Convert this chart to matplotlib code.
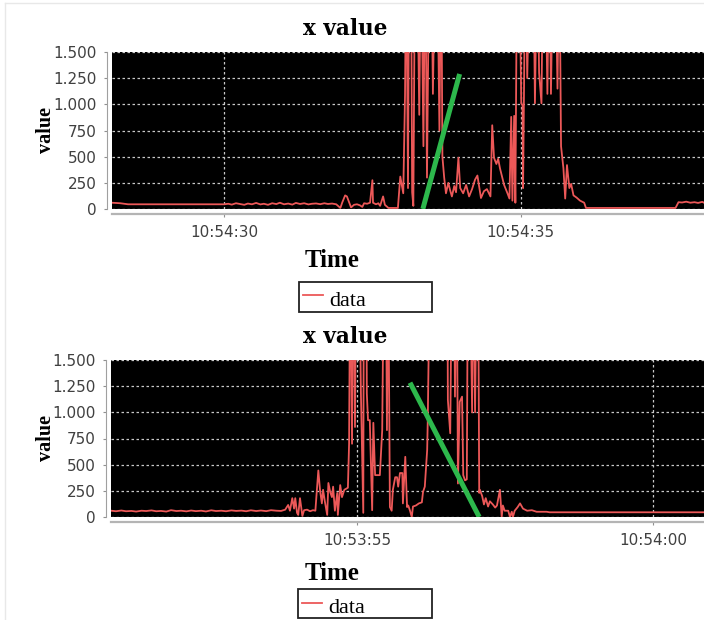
#!/usr/bin/env python3
"""
Two stacked time series panels ("x value") with a fitted trend segment.
"""
import matplotlib
matplotlib.use("Agg")
import matplotlib.pyplot as plt
import matplotlib.dates as mdates
import matplotlib.ticker as mticker
from matplotlib.lines import Line2D
from matplotlib.patches import Rectangle
import pandas as pd

W, H = 704, 620

# ---- top panel data (seconds after 10:54:00) ----
top_sec = [28.11, 28.25, 28.38, 30.00, 30.07, 30.13, 30.20, 30.27, 30.34, 30.40,
           30.47, 30.54, 30.61, 30.67, 30.74, 30.81, 30.88, 30.94, 31.01, 31.08,
           31.15, 31.21, 31.28, 31.35, 31.42, 31.48, 31.55, 31.62, 31.69, 31.75,
           31.82, 31.89, 31.96, 31.99, 32.04, 32.07, 32.11, 32.14, 32.19, 32.24,
           32.29, 32.33, 32.36, 32.41, 32.46, 32.50, 32.51, 32.56, 32.60, 32.63,
           32.68, 32.71, 32.77, 32.93, 32.97, 33.02, 33.05, 33.07, 33.10, 33.12,
           33.15, 33.17, 33.19, 33.22, 33.25, 33.29, 33.32, 33.36, 33.39, 33.42,
           33.46, 33.49, 33.52, 33.56, 33.59, 33.63, 33.66, 33.68, 33.71, 33.74,
           33.78, 33.81, 33.84, 33.88, 33.91, 33.95, 33.98, 34.03, 34.08, 34.13,
           34.18, 34.23, 34.27, 34.30, 34.33, 34.38, 34.43, 34.49, 34.52, 34.55,
           34.59, 34.62, 34.65, 34.69, 34.72, 34.77, 34.81, 34.84, 34.86, 34.89,
           34.91, 34.94, 34.97, 35.01, 35.03, 35.04, 35.08, 35.11, 35.16, 35.21,
           35.24, 35.28, 35.31, 35.35, 35.38, 35.41, 35.45, 35.48, 35.51, 35.55,
           35.58, 35.62, 35.65, 35.68, 35.72, 35.75, 35.78, 35.82, 35.85, 35.89,
           35.94, 36.00, 36.07, 36.10, 37.61, 37.66, 37.72, 37.79, 37.86, 37.93,
           37.99, 38.06, 38.09]
top_val = [60, 55, 45, 45, 50, 42, 55, 48, 40, 52,
           45, 58, 44, 50, 40, 55, 47, 60, 45, 52,
           42, 58, 48, 55, 44, 50, 53, 46, 55, 48,
           52, 45, 10, 60, 130, 120, 60, 15, 40, 45,
           35, 20, 55, 50, 60, 275, 60, 45, 55, 30,
           120, 40, 10, 10, 310, 150, 1090, 2600, 200, 2600,
           2600, 160, 30, 2600, 2600, 900, 2600, 600, 2600, 300,
           2600, 2600, 1100, 2600, 2600, 750, 2600, 500, 300, 150,
           250, 180, 120, 220, 160, 490, 200, 150, 230, 120,
           190, 280, 320, 210, 105, 170, 190, 120, 800, 490,
           430, 480, 390, 300, 230, 160, 100, 880, 80, 890,
           60, 2600, 2600, 1010, 990, 200, 2600, 1250, 2600, 2600,
           1010, 2600, 1300, 1010, 2600, 2600, 1100, 2600, 1100, 2600,
           2600, 1150, 2600, 600, 390, 100, 420, 200, 240, 130,
           110, 80, 60, 10, 10, 65, 62, 70, 60, 65,
           58, 68, 60]
top_trend_sec = [33.35, 33.97]
top_trend_val = [0, 1290]
top_xlim = [28.11, 38.09]

# ---- bottom panel data (seconds after 10:53:00) ----
bot_sec = [50.84, 50.92, 51.01, 51.09, 51.18, 51.26, 51.35, 51.43, 51.52, 51.60,
           51.68, 51.77, 51.85, 51.94, 52.02, 52.11, 52.19, 52.27, 52.36, 52.44,
           52.53, 52.61, 52.70, 52.78, 52.87, 52.95, 53.04, 53.12, 53.20, 53.29,
           53.37, 53.46, 53.54, 53.63, 53.71, 53.78, 53.83, 53.86, 53.90, 53.93,
           53.95, 53.98, 54.00, 54.03, 54.07, 54.10, 54.15, 54.20, 54.25, 54.29,
           54.34, 54.37, 54.40, 54.42, 54.45, 54.49, 54.51, 54.54, 54.57, 54.59,
           54.62, 54.66, 54.67, 54.71, 54.74, 54.78, 54.81, 54.84, 54.86, 54.88,
           54.91, 54.93, 54.96, 54.98, 55.03, 55.06, 55.10, 55.11, 55.15, 55.16,
           55.18, 55.21, 55.25, 55.27, 55.30, 55.38, 55.42, 55.45, 55.48, 55.50,
           55.52, 55.55, 55.58, 55.60, 55.64, 55.67, 55.69, 55.72, 55.76, 55.77,
           55.81, 55.84, 55.86, 55.89, 55.92, 55.94, 55.99, 56.04, 56.09, 56.11,
           56.14, 56.18, 56.19, 56.23, 56.52, 56.53, 56.57, 56.60, 56.63, 56.65,
           56.68, 56.70, 56.73, 56.77, 56.79, 56.82, 56.85, 56.87, 56.90, 56.94,
           56.95, 56.99, 57.02, 57.04, 57.06, 57.07, 57.11, 57.14, 57.17, 57.21,
           57.24, 57.29, 57.33, 57.36, 57.41, 57.44, 57.46, 57.49, 57.55, 57.58,
           57.61, 57.63, 57.66, 57.71, 57.75, 57.80, 57.87, 57.95, 58.03, 58.20,
           58.25, 60.86]
bot_val = [60, 55, 62, 55, 58, 52, 60, 57, 63, 55,
           58, 52, 65, 57, 60, 54, 62, 56, 60, 53,
           64, 57, 60, 55, 63, 58, 61, 55, 64, 57,
           62, 56, 65, 60, 58, 70, 115, 60, 180, 80,
           180, 40, 20, 180, 10, 65, 70, 55, 65, 60,
           445, 250, 130, 260, 150, 20, 325, 240, 190, 290,
           60, 230, 20, 305, 190, 260, 270, 280, 700, 2600,
           700, 2600, 860, 2600, 2600, 1180, 40, 2600, 2600, 1180,
           925, 925, 65, 900, 400, 400, 830, 2600, 2600, 830,
           2600, 95, 60, 260, 380, 380, 290, 420, 420, 130,
           575, 95, 110, 60, 0, 100, 110, 130, 140, 240,
           290, 640, 925, 2600, 2600, 1120, 800, 2600, 2600, 1150,
           2600, 320, 1100, 1150, 400, 350, 360, 2600, 2600, 1000,
           2600, 1000, 2600, 2600, 230, 260, 200, 120, 180, 100,
           150, 120, 90, 110, 260, 0, 110, 60, 60, 0,
           50, 0, 60, 95, 130, 80, 60, 65, 50, 50,
           45, 45]
bot_trend_sec = [55.89, 57.06]
bot_trend_val = [1283, 0]
bot_xlim = [50.83, 60.86]

y_ticks = [0, 250, 500, 750, 1000, 1250, 1500]

RED = "#ec5858"
GREEN = "#2db84c"


def fx(x):
    return x / W


def fy(y):
    return 1 - y / H


def to_times(base, secs):
    return (pd.Timestamp(base) + pd.to_timedelta(secs, unit="s")).to_pydatetime()


def draw_panel(ax, base, secs, vals, tr_sec, tr_val, xlim):
    ax.set_facecolor("black")
    ax.plot(to_times(base, secs), vals, color=RED, lw=1.3)
    ax.plot(to_times(base, tr_sec), tr_val, color=GREEN, lw=3.6,
            solid_capstyle="butt")
    ax.set_xlim(to_times(base, xlim))
    ax.set_ylim(0, 1500)
    ax.set_yticks(y_ticks)
    ax.yaxis.set_major_formatter(
        mticker.FuncFormatter(lambda v, p: f"{int(v):,}".replace(",", ".")))
    ax.xaxis.set_major_locator(mdates.SecondLocator(bysecond=range(0, 60, 5)))
    ax.xaxis.set_major_formatter(mdates.DateFormatter("%H:%M:%S"))
    ax.grid(True, color="#c8c8c8", linestyle=(0, (2, 2)), linewidth=0.9)
    ax.set_axisbelow(True)

    for side in ("top", "right"):
        ax.spines[side].set_visible(False)
    ax.spines["left"].set_position(("outward", 3.5))
    ax.spines["left"].set_color("#a0a0a0")
    ax.spines["bottom"].set_position(("outward", 3.5))
    ax.spines["bottom"].set_color("#b4b4b4")
    ax.spines["bottom"].set_linewidth(1.6)
    ax.tick_params(axis="both", direction="out", length=2.5, width=0.8,
                   color="#909090", labelsize=11, labelcolor="#404040")
    ax.tick_params(axis="y", pad=5)
    ax.tick_params(axis="x", pad=5.5)


def legend_box(fig, x0, x1, y0, y1, line_y, text_y):
    fig.add_artist(Rectangle((fx(x0), fy(y1)), fx(x1) - fx(x0), (y1 - y0) / H,
                             transform=fig.transFigure, fill=False,
                             edgecolor="#222222", lw=1.3))
    fig.add_artist(Line2D([fx(x0 + 4), fx(x0 + 24)], [fy(line_y)] * 2,
                          transform=fig.transFigure, color=RED, lw=1.3))
    fig.text(fx(x0 + 30), fy(text_y), "data", ha="left", va="baseline",
             fontfamily="Liberation Serif", fontsize=16)


def create_chart():
    fig = plt.figure(figsize=(W / 100, H / 100), dpi=100)
    fig.patch.set_facecolor("white")

    ax1 = fig.add_axes([fx(112), fy(209), fx(704) - fx(112), 157 / H])
    ax2 = fig.add_axes([fx(110.7), fy(517), fx(704) - fx(110.7), 157 / H])

    draw_panel(ax1, "2000-01-01 10:54:00", top_sec, top_val,
               top_trend_sec, top_trend_val, top_xlim)
    draw_panel(ax2, "2000-01-01 10:53:00", bot_sec, bot_val,
               bot_trend_sec, bot_trend_val, bot_xlim)

    # titles and axis labels
    for title_y, time_y, value_y in ((35, 267, 130), (343, 580, 438)):
        fig.text(fx(345), fy(title_y), "x value", ha="center", va="baseline",
                 fontfamily="DejaVu Serif", fontweight="bold", fontsize=15.5)
        fig.text(fx(332), fy(time_y), "Time", ha="center", va="baseline",
                 fontfamily="Liberation Serif", fontweight="bold", fontsize=18)
        fig.text(fx(46), fy(value_y), "value", rotation=90, ha="center",
                 va="center", fontfamily="Liberation Serif",
                 fontweight="bold", fontsize=14.5)

    legend_box(fig, 299, 432, 282, 312, 295, 306)
    legend_box(fig, 298, 432, 589, 618, 603, 613)

    # faint panel border
    fig.add_artist(Line2D([fx(5), fx(5)], [fy(3), fy(620)],
                          transform=fig.transFigure, color="#e8e8e8", lw=1))
    fig.add_artist(Line2D([fx(5), fx(704)], [fy(3), fy(3)],
                          transform=fig.transFigure, color="#e8e8e8", lw=1))

    fig.savefig("out.png", dpi=100)


if __name__ == "__main__":
    create_chart()
